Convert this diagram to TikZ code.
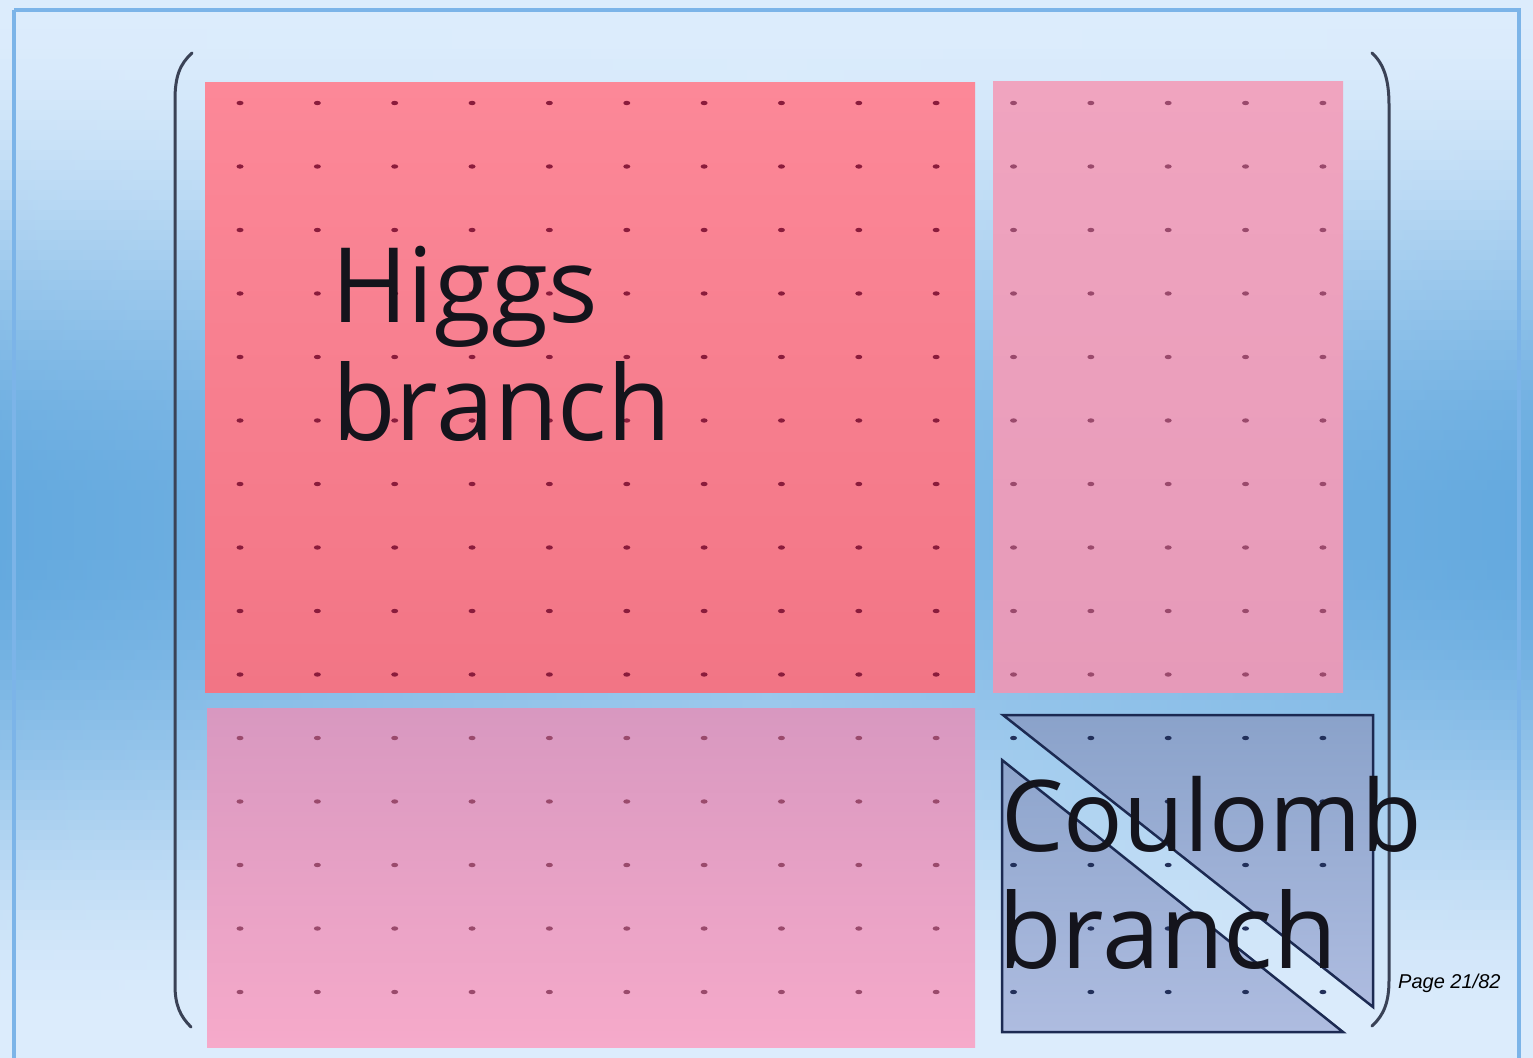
\documentclass[tikz,border=0pt]{standalone}
\usepackage{fontspec}
\setmainfont{Open Sans}
\newfontfamily\pagefont{Liberation Sans}
\definecolor{bgedge}{HTML}{62A8DE}
\definecolor{bglight}{HTML}{DCECFC}
\definecolor{framec}{HTML}{7CB4E8}
\definecolor{tltop}{HTML}{FC8898}
\definecolor{tlbot}{HTML}{F27585}
\definecolor{trtop}{HTML}{F0A4BF}
\definecolor{trmid}{HTML}{DC90B4}
\definecolor{trbot}{HTML}{E69AB9}
\definecolor{bltop}{HTML}{D898C0}
\definecolor{blbot}{HTML}{F6AACA}
\definecolor{cotop}{HTML}{8AA2CA}
\definecolor{cobot}{HTML}{AEBCE0}
\definecolor{coline}{HTML}{1C2A52}
\definecolor{dotred}{HTML}{8A1C3C}
\definecolor{dotpink}{HTML}{9A4A6C}
\definecolor{dotblue}{HTML}{22305A}
\definecolor{brkc}{HTML}{3A4256}
\definecolor{textdark}{HTML}{14141C}
\tikzset{
  hb/.style={font=\fontsize{104}{118}\selectfont, text=textdark, inner sep=0pt, anchor=base west},
  hbs/.style={font=\fontsize{99}{118}\selectfont, text=textdark, inner sep=0pt, anchor=base west},
  pagelbl/.style={font=\pagefont\itshape\fontsize{20}{24}\selectfont, text=black, inner sep=0pt, anchor=base west},
  brk/.style={draw=brkc, line width=3pt, line cap=round},
  tri/.style={draw=coline, line width=2.5pt, line join=miter},
}
\begin{document}
\begin{tikzpicture}[x=1pt,y=-1pt]
\useasboundingbox (0,0) rectangle (1533,1057);
% background
\foreach \i in {0,...,106} {
  \pgfmathsetmacro\yy{\i*10}
  \pgfmathtruncatemacro\p{100*(sin(0.170293*(\yy+5)))^2}
  \pgfmathtruncatemacro\q{0.72*\p}
  \shade[left color=bgedge!\p!bglight, right color=bgedge!\p!bglight, middle color=bgedge!\q!bglight]
    (0,\yy) rectangle (1533,\yy+11);
}
\draw[framec, line width=3.5pt] (14,10) -- (1519,10) -- (1519,1070);
\draw[framec, line width=3.5pt] (14,10) -- (14,1070);
% brackets
\draw[brk] (192,53) .. controls (180,64) and (175,76) .. (175,100) -- (175,985) .. controls (175,1005) and (180,1016) .. (191,1027);
\draw[brk] (1372,53) .. controls (1384,64) and (1389,80) .. (1389,105) -- (1389,980) .. controls (1389,1002) and (1384,1015) .. (1372,1026);
% blocks
\shade[top color=tltop, bottom color=tlbot] (205,82) rectangle (975,692);
\shade[top color=trtop, middle color=trmid, bottom color=trbot] (993,81) rectangle (1343,692);
\shade[top color=bltop, bottom color=blbot] (207,708) rectangle (975,1047);
% coulomb triangles
\shadedraw[tri, top color=cotop, bottom color=cobot] (1003,715) -- (1373,715) -- (1373,1007) -- cycle;
\shadedraw[tri, top color=cotop!90!cobot, bottom color=cobot] (1002,760) -- (1002,1032) -- (1343,1032) -- cycle;
% dots
\foreach \c in {0,...,9} \foreach \r in {0,...,9}
  \fill[dotred] (240+77.35*\c, 103+63.5*\r) ellipse [x radius=3.5pt, y radius=2.2pt];
\foreach \c in {10,...,14} \foreach \r in {0,...,9}
  \fill[dotpink] (240+77.35*\c, 103+63.5*\r) ellipse [x radius=3.5pt, y radius=2.2pt];
\foreach \c in {0,...,9} \foreach \r in {10,...,14}
  \fill[dotpink] (240+77.35*\c, 103+63.5*\r) ellipse [x radius=3.5pt, y radius=2.2pt];
\foreach \c in {10,...,14} \foreach \r in {10,...,14}
  \fill[dotblue] (240+77.35*\c, 103+63.5*\r) ellipse [x radius=3.5pt, y radius=2.2pt];
% text
\node[hb] (higgs1) at (331,322) {Higgs};
\node[hb] (higgs2) at (332,440) {branch};
\node[hbs] (coul1) at (1001,851) {Coulomb};
\node[hb] (coul2) at (998,968) {branch};
\node[pagelbl] (page) at (1398,988) {Page 21/82};
\end{tikzpicture}
\end{document}
